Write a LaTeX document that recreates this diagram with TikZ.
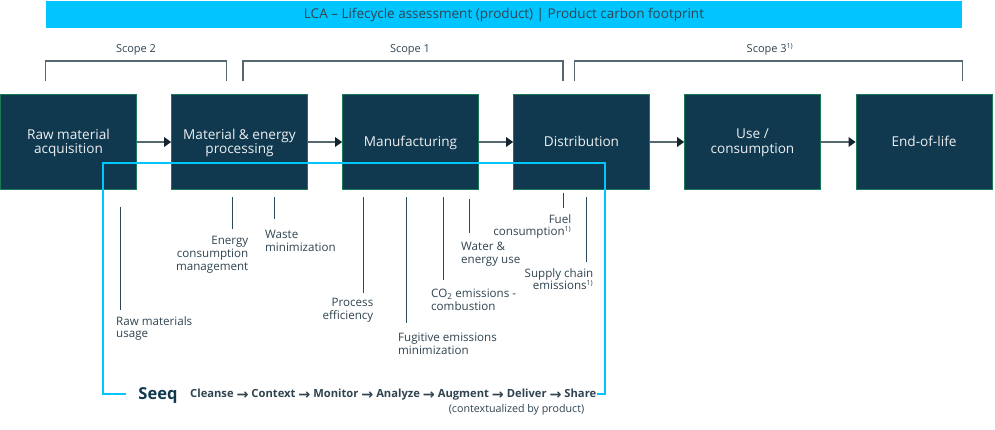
\documentclass[tikz,border=0pt]{standalone}
\usepackage{fontspec}
\setmainfont{Open Sans}
\newfontfamily\arrowfont{DejaVu Sans}
\usetikzlibrary{arrows.meta,positioning}
\definecolor{navy}{HTML}{10394F}
\definecolor{edgegreen}{HTML}{1B7A55}
\definecolor{sky}{HTML}{00C5FF}
\definecolor{ink}{HTML}{2F4350}
\definecolor{bracket}{HTML}{56676F}
\definecolor{lead}{HTML}{2C4858}
\definecolor{tipdark}{HTML}{14242F}
\tikzset{
 x=1pt,y=-1pt,
 proc/.style={draw=edgegreen,line width=0.8pt,fill=navy,text=white!92!navy,minimum width=136pt,minimum height=95pt,inner sep=0pt,align=center,font=\fontsize{13.6}{14.3}\selectfont,text depth=1.6pt},
 flow/.style={draw=bracket,line width=1.3pt,-{Triangle[length=7pt,width=10pt,color=tipdark,fill=tipdark,line width=0pt]}},
 brk/.style={draw=bracket,line width=1.1pt},
 leader/.style={draw=lead,line width=0.9pt},
 lab/.style={inner sep=0pt,text=ink,font=\fontsize{11.6}{12.8}\selectfont},
 scopelab/.style={inner sep=0pt,text=ink,font=\fontsize{11}{12}\selectfont},
 blueframe/.style={draw=sky,line width=2.5pt,line join=miter},
}
\newcommand{\fnm}{\textsuperscript{\fontsize{7}{7}\selectfont 1)}}
\newcommand{\thenarrow}{\raisebox{-1.2pt}{\arrowfont\fontsize{14.3}{13}\selectfont →}}
\begin{document}
\begin{tikzpicture}
\useasboundingbox (0,0) rectangle (995,429);
\node[fill=sky,minimum width=916pt,minimum height=27pt,inner sep=0pt,text=ink,font=\fontsize{13.5}{14}\selectfont] (title) at (504,14.5) {LCA – Lifecycle assessment (product) | Product carbon footprint};

\node[proc] (a) at (68.5,142) {Raw material\\acquisition};
\node[proc] (b) at (239.5,142) {Material \& energy\\processing};
\node[proc] (c) at (410.5,142) {Manufacturing};
\node[proc] (d) at (581.5,142) {Distribution};
\node[proc] (e) at (752.5,142) {Use /\\consumption};
\node[proc] (f) at (924,142) {End-of-life};
\foreach \p/\q in {a/b,b/c,c/d,d/e,e/f}{\draw[flow] (\p.east) -- (\q.west);}

\node[scopelab] (s2) at (136,50) {Scope 2};
\node[scopelab] (s1) at (410,50) {Scope 1};
\node[scopelab] (s3) at (770,49.5) {Scope 3\fnm};
\coordinate (s2l) at (45.5,81); \coordinate (s2r) at (226.5,81);
\coordinate (s1l) at (243,81);  \coordinate (s1r) at (563,81);
\coordinate (s3l) at (574.5,81);\coordinate (s3r) at (962.5,81);
\draw[brk] (s2l) -- ++(0,-20) -| (s2r);
\draw[brk] (s1l) -- ++(0,-20) -| (s1r);
\draw[brk] (s3l) -- ++(0,-20) -| (s3r);

\node[lab,align=left,anchor=north west] (l1) at (116,316) {Raw materials\\usage};
\node[lab,align=right,anchor=north east] (l2) at (248.5,236) {Energy\\consumption\\management};
\node[lab,align=left,anchor=north west] (l3) at (265,230) {Waste\\minimization};
\node[lab,align=right,anchor=north east] (l4) at (373.5,298) {Process\\efficiency};
\node[lab,align=left,anchor=north west] (l5) at (398,333) {Fugitive emissions\\minimization};
\node[lab,align=left,anchor=north west] (l6) at (431,289) {CO\textsubscript{2} emissions -\\combustion};
\node[lab,align=left,anchor=north west] (l7) at (461,242) {Water \&\\energy use};
\node[lab,align=right,anchor=north east] (l8) at (571.5,214) {Fuel\\consumption\fnm};
\node[lab,align=right,anchor=north east] (l9) at (593.5,268) {Supply chain\\emissions\fnm};

\foreach \n/\px/\ya/\yb in {1/120/207/310,2/232.5/197/229,3/274.5/197/219,4/363.5/197/293,5/406.5/197/323,6/443.5/197/280,7/469/199/233,8/563.5/193/208,9/586/197/262}{
  \coordinate (t\n) at (\px,\ya);
  \coordinate (e\n) at (\px,\yb);
  \draw[leader] (t\n) -- (e\n);
}

\node[inner sep=0pt,text=navy,font=\fontsize{16.5}{18}\bfseries\selectfont] (seeq) at (158,395.5) {Seeq};
\node[inner sep=0pt,text=ink,anchor=west,font=\fontsize{11.2}{13}\bfseries\selectfont] (chain) at (190,395) {Cleanse \thenarrow{} Context \thenarrow{} Monitor \thenarrow{} Analyze \thenarrow{} Augment \thenarrow{} Deliver \thenarrow{} Share};
\node[lab,font=\fontsize{10.7}{12}\selectfont] (ctx) at (516.5,409.5) {(contextualized by product)};
\coordinate (bl) at (126,394);
\coordinate (br) at (597,394);
\draw[blueframe] (bl) -- (103,394) -- (103,163) -- (605,163) -- (605,394) -- (br);
\end{tikzpicture}
\end{document}
